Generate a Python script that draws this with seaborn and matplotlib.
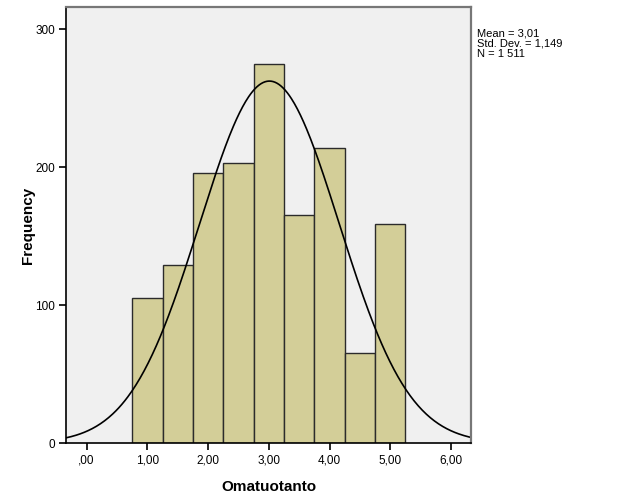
import numpy as np
import pandas as pd
import matplotlib
matplotlib.use("Agg")
import matplotlib.pyplot as plt
import seaborn as sns

# Data
bin_centers = [1.0, 1.5, 2.0, 2.5, 3.0, 3.5, 4.0, 4.5, 5.0]
counts = [105, 129, 196, 203, 275, 165, 214, 65, 159]
bin_width = 0.5
mean_val = 3.01
std_val = 1.149
n_total = 1511
x_ticks = [0, 1, 2, 3, 4, 5, 6]
x_tick_labels = [",00", "1,00", "2,00", "3,00", "4,00", "5,00", "6,00"]
y_ticks = [0, 100, 200, 300]
stats_text = "Mean = 3,01\nStd. Dev. = 1,149\nN = 1 511"

sns.set_theme(style="white")
plt.rcParams["font.family"] = ["Liberation Sans", "DejaVu Sans"]
plt.rcParams["text.color"] = "black"
plt.rcParams["axes.labelcolor"] = "black"
plt.rcParams["xtick.color"] = "black"
plt.rcParams["ytick.color"] = "black"

fig = plt.figure(figsize=(6.29, 5.04), dpi=100)
ax = fig.add_axes([66/629, 1-443/504, (471-66)/629, (443-7)/504])
ax.set_facecolor("#F0F0F0")

df = pd.DataFrame({"x": bin_centers, "w": counts})
edges = [c - bin_width/2 for c in bin_centers] + [bin_centers[-1] + bin_width/2]
sns.histplot(data=df, x="x", weights="w", bins=edges, ax=ax,
             color="#D3CE98", alpha=1.0, edgecolor="#2b2b2b", linewidth=1.0)

xs = np.linspace(-0.34, 6.33, 400)
ys = n_total * bin_width / (std_val * np.sqrt(2*np.pi)) * np.exp(-0.5*((xs-mean_val)/std_val)**2)
sns.lineplot(x=xs, y=ys, ax=ax, color="black", linewidth=1.2)

ax.set_xlim(-0.34, 6.33)
ax.set_ylim(0, 316)
ax.set_xticks(x_ticks)
ax.set_xticklabels(x_tick_labels, fontsize=8.5)
ax.set_yticks(y_ticks)
ax.set_yticklabels([str(v) for v in y_ticks], fontsize=8.5)
ax.tick_params(axis="both", direction="out", length=5, width=1.2, color="black",
               labelcolor="black", bottom=True, left=True, pad=3)
ax.set_xlabel("Omatuotanto", fontsize=11, fontweight="bold", labelpad=10, color="black")
ax.set_ylabel("Frequency", fontsize=11, fontweight="bold", labelpad=0, color="black")

for side in ["left", "bottom"]:
    ax.spines[side].set_color("black")
    ax.spines[side].set_linewidth(1.2)
for side in ["top", "right"]:
    ax.spines[side].set_color("#777777")
    ax.spines[side].set_linewidth(1.6)
    ax.spines[side].set_visible(True)

fig.text(477/629, 1-28/504, stats_text, fontsize=8, va="top", ha="left",
         linespacing=1.05, color="black")

fig.savefig("out.png", dpi=100)
